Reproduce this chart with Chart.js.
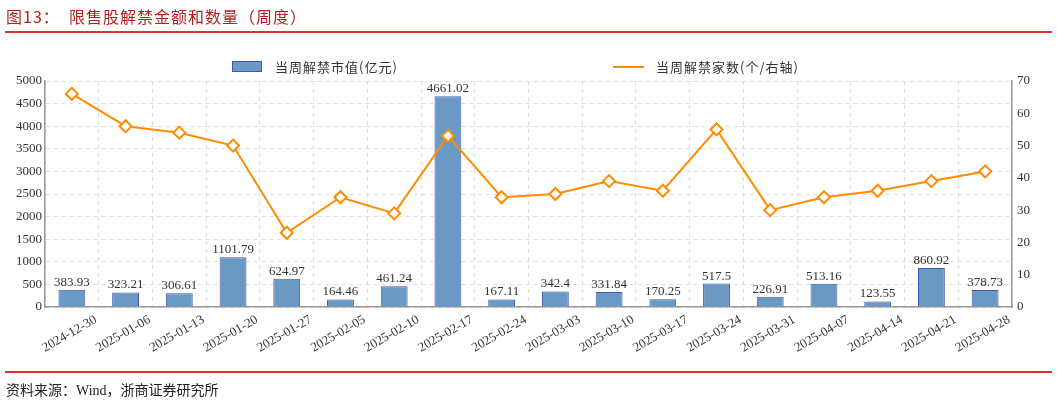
<!DOCTYPE html>
<html>
<head>
<meta charset="utf-8">
<script src="https://cdn.jsdelivr.net/npm/chart.js@4.4.1/dist/chart.umd.min.js"></script>
<style>
  html, body { margin: 0; padding: 0; background: #fff; }
  #wrap { position: relative; width: 1057px; height: 403px; overflow: hidden; }
  #chart { position: absolute; left: 0; top: 0; }
  .title { position: absolute; left: 6px; top: 4px; font: 16px "Noto Sans CJK SC", serif; color: #b41e1e; letter-spacing: 1px; }
  .rule { position: absolute; left: 5px; width: 1047px; height: 2px; background: #e03030; }
  .legend { position: absolute; top: 57px; font: 13px "Noto Sans CJK SC", serif; color: #333; letter-spacing: 1px; }
  .legend .sw { position: absolute; top: 4px; }
  .legend span.t { position: absolute; white-space: nowrap; top: 0; }
  .source { position: absolute; left: 6px; top: 379px; font: 14px "Liberation Serif", "Noto Sans CJK SC", serif; color: #222; }
</style>
</head>
<body>
<div id="wrap">
  <canvas id="chart" width="1057" height="403"></canvas>
  <div class="title">图13：&nbsp;&nbsp;限售股解禁金额和数量（周度）</div>
  <div class="rule" style="top:31px"></div>
  <div class="legend" style="left:232px">
    <div class="sw" style="left:0;width:28px;height:9px;background:#6a9ac4;border:1px solid #4456b0"></div>
    <span class="t" style="left:43px">当周解禁市值(亿元)</span>
  </div>
  <div class="legend" style="left:613px">
    <div class="sw" style="left:0;top:9px;width:31px;height:0;border-top:2px solid #ff8c00"></div>
    <span class="t" style="left:43px">当周解禁家数(个/右轴)</span>
  </div>
  <div class="rule" style="top:371px"></div>
  <div class="source">资料来源：Wind，浙商证券研究所</div>
</div>
<script>
const weeks = ['2024-12-30', '2025-01-06', '2025-01-13', '2025-01-20', '2025-01-27', '2025-02-05',
  '2025-02-10', '2025-02-17', '2025-02-24', '2025-03-03', '2025-03-10', '2025-03-17',
  '2025-03-24', '2025-03-31', '2025-04-07', '2025-04-14', '2025-04-21', '2025-04-28'];
const unlockValue = [383.93, 323.21, 306.61, 1101.79, 624.97, 164.46, 461.24, 4661.02, 167.11,
  342.4, 331.84, 170.25, 517.5, 226.91, 513.16, 123.55, 860.92, 378.73];
const unlockCount = [66, 56, 54, 50, 23, 34, 29, 53, 34, 35, 39, 36, 55, 30, 34, 36, 39, 42];

const serif = '"Liberation Serif", "Times New Roman", serif';

// 막대 위에 값 표시
const barLabels = {
  id: 'barLabels',
  afterDatasetsDraw(chart) {
    const ctx = chart.ctx;
    const meta = chart.getDatasetMeta(0);
    ctx.save();
    ctx.font = '13px ' + serif;
    ctx.fillStyle = '#333';
    ctx.textAlign = 'center';
    ctx.textBaseline = 'bottom';
    meta.data.forEach((bar, i) => {
      ctx.fillText(String(unlockValue[i]), bar.x, bar.y - 1);
    });
    ctx.restore();
  }
};

new Chart(document.getElementById('chart').getContext('2d'), {
  data: {
    labels: weeks,
    datasets: [{
      type: 'bar',
      label: '当周解禁市值(亿元)',
      data: unlockValue,
      yAxisID: 'y',
      backgroundColor: '#6a9ac4',
      borderColor: '#4456b0',
      borderWidth: 1,
      barPercentage: 0.5,
      categoryPercentage: 1,
      order: 2
    }, {
      type: 'line',
      label: '当周解禁家数(个/右轴)',
      data: unlockCount,
      yAxisID: 'y1',
      borderColor: '#ff8c00',
      borderWidth: 2,
      pointStyle: 'rectRot',
      pointRadius: 6,
      pointBorderWidth: 2,
      pointBackgroundColor: '#fff',
      pointBorderColor: '#ff8c00',
      tension: 0,
      order: 1
    }]
  },
  options: {
    responsive: false,
    animation: false,
    layout: { padding: { top: 81, left: 0, right: 0, bottom: 0 } },
    plugins: { legend: { display: false }, tooltip: { enabled: false } },
    scales: {
      x: {
        offset: true,
        grid: { offset: true, color: '#dcdcdc', drawTicks: false, tickLength: 0 },
        border: { color: '#999', width: 1.5, dash: [4, 4] },
        ticks: { color: '#333', font: { family: serif, size: 13 }, minRotation: 30, maxRotation: 30, padding: 5, labelOffset: 24, autoSkip: false },
        afterFit(s) { s.height = 96; }
      },
      y: {
        position: 'left',
        min: 0, max: 5000,
        ticks: { stepSize: 500, color: '#333', font: { family: serif, size: 13 }, padding: 3, callback: v => String(v) },
        grid: { color: '#dcdcdc', drawTicks: false },
        border: { color: '#999', width: 1.5, dash: [4, 4] },
        afterFit(s) { s.width = 45; }
      },
      y1: {
        position: 'right',
        min: 0, max: 70,
        ticks: { stepSize: 10, color: '#333', font: { family: serif, size: 13 }, padding: 2, callback: v => String(v) },
        grid: { display: false, tickLength: 3 },
        border: { color: '#999', width: 1.5 },
        afterFit(s) { s.width = 45; }
      }
    }
  },
  plugins: [barLabels]
});
</script>
</body>
</html>
